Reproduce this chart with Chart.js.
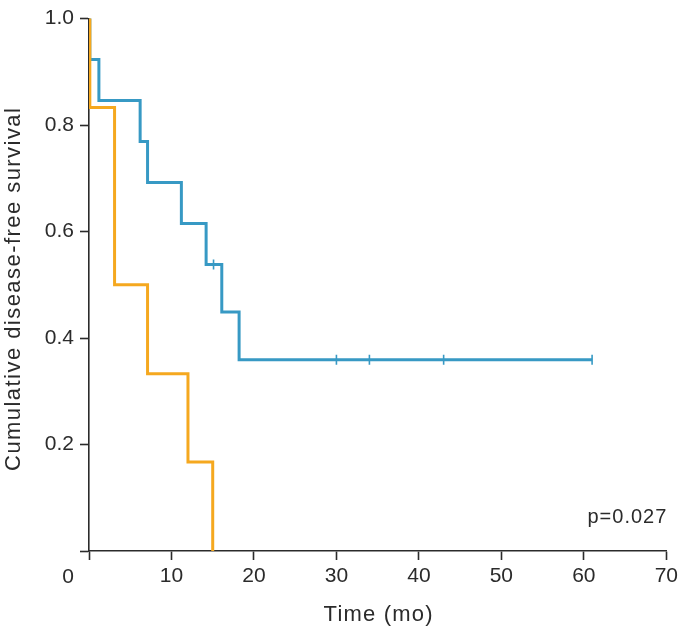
<!DOCTYPE html>
<html>
<head>
<meta charset="utf-8">
<script src="https://cdn.jsdelivr.net/npm/chart.js@4/dist/chart.umd.min.js"></script>
<style>
html,body{margin:0;padding:0;background:#fff;}
canvas{display:block;}
</style>
</head>
<body>
<canvas id="c" width="682" height="630"></canvas>
<script>
// Kaplan-Meier data
const blueTimes = [0, 0.1, 1.2, 6.2, 7.1, 11.2, 14.2, 16.1, 18.2, 61];
const blueSurv  = [1.0, 0.923, 0.846, 0.769, 0.692, 0.615, 0.538, 0.449, 0.359, 0.359];
const blueCensorTimes = [15.1, 30, 34, 43, 61];
const blueCensorSurv  = [0.538, 0.359, 0.359, 0.359, 0.359];
const orangeTimes = [0, 0.1, 3.1, 7.1, 12.0, 15.0];
const orangeSurv  = [1.0, 0.833, 0.5, 0.333, 0.167, 0.0];
const xTicks = [0, 10, 20, 30, 40, 50, 60, 70];
const yTicks = [0, 0.2, 0.4, 0.6, 0.8, 1.0];
const xTitle = 'Time (mo)';
const yTitle = 'Cumulative disease-free survival';
const pText = 'p=0.027';

const BLUE = '#3799c4';
const ORANGE = '#f5a81f';
const INK = '#2b2b2b';
const FONT = "'Liberation Sans', Arial, sans-serif";

const toPts = (xs, ys) => xs.map((x, i) => ({x: x, y: ys[i]}));

const textPlugin = {
  id: 'texts',
  afterDraw(chart) {
    const ctx = chart.ctx;
    const xs = chart.scales.x;
    ctx.save();
    ctx.fillStyle = INK;
    // x title
    ctx.font = '22px ' + FONT;
    ctx.letterSpacing = '1.2px';
    ctx.textAlign = 'center';
    ctx.textBaseline = 'alphabetic';
    const cx = (chart.chartArea.left + chart.chartArea.right) / 2;
    ctx.fillText(xTitle, cx + 1, 621);
    // y title
    ctx.save();
    const cy = (chart.chartArea.top + chart.chartArea.bottom) / 2 + 4;
    ctx.translate(20, cy);
    ctx.rotate(-Math.PI / 2);
    ctx.letterSpacing = '1.45px';
    ctx.fillText(yTitle, 0, 0);
    ctx.restore();
    // origin label
    ctx.letterSpacing = '0px';
    ctx.font = '21px ' + FONT;
    ctx.textAlign = 'center';
    ctx.fillText(String(xTicks[0]), xs.getPixelForValue(0) - 21, 583);
    // p value
    ctx.font = '20px ' + FONT;
    ctx.letterSpacing = '1px';
    ctx.textAlign = 'right';
    ctx.fillText(pText, xs.getPixelForValue(70) + 1, 523);
    ctx.restore();
  }
};

new Chart(document.getElementById('c'), {
  type: 'line',
  data: {
    datasets: [
      {
        data: toPts(orangeTimes, orangeSurv),
        borderColor: ORANGE, borderWidth: 3, stepped: 'before',
        pointRadius: 0, fill: false
      },
      {
        data: toPts(blueTimes, blueSurv),
        borderColor: BLUE, borderWidth: 3, stepped: 'before',
        pointRadius: 0, fill: false
      },
      {
        type: 'scatter',
        data: toPts(blueCensorTimes, blueCensorSurv),
        borderColor: BLUE, backgroundColor: BLUE,
        pointStyle: 'line', rotation: 90, pointRadius: 5, pointBorderWidth: 1.6,
        showLine: false
      }
    ]
  },
  options: {
    responsive: false,
    animation: false,
    devicePixelRatio: 1,
    layout: { padding: { top: 11, right: 13, left: 0, bottom: 0 } },
    plugins: { legend: { display: false }, tooltip: { enabled: false } },
    scales: {
      x: {
        type: 'linear', min: 0, max: 70,
        afterBuildTicks: (s) => { s.ticks = xTicks.map(v => ({value: v})); },
        afterFit: (s) => { s.height = 79; },
        ticks: {
          color: INK, font: { family: FONT, size: 21 }, padding: 4,
          maxRotation: 0, autoSkip: false,
          callback: (v) => v === 0 ? '' : String(v)
        },
        grid: { drawOnChartArea: false, drawTicks: true, tickLength: 9, tickColor: INK, tickWidth: 1.6 },
        border: { display: true, color: INK, width: 1.6 }
      },
      y: {
        type: 'linear', min: 0, max: 1,
        afterBuildTicks: (s) => { s.ticks = yTicks.map(v => ({value: v})); },
        afterFit: (s) => { s.width = 89; },
        ticks: {
          color: INK, font: { family: FONT, size: 21 }, padding: 6,
          autoSkip: false,
          callback: (v) => v === 0 ? '' : v.toFixed(1)
        },
        grid: { drawOnChartArea: false, drawTicks: true, tickLength: 9, tickColor: INK, tickWidth: 1.6 },
        border: { display: true, color: INK, width: 1.6 }
      }
    }
  },
  plugins: [textPlugin]
});
</script>
</body>
</html>
